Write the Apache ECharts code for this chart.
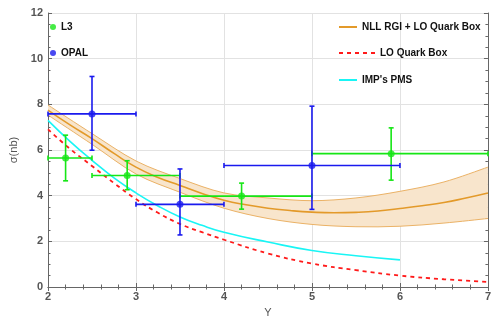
<!DOCTYPE html>
<html>
<head>
<meta charset="utf-8">
<script src="https://cdn.jsdelivr.net/npm/echarts@6/dist/echarts.min.js"></script>
<style>html,body{margin:0;padding:0;background:#fff}#c{width:494px;height:323px}</style>
</head>
<body>
<div id="c"></div>
<script>
// ---- data ----
var l3X    = [2.2, 2.9, 4.2, 5.9];
var l3Y    = [5.65, 4.88, 3.98, 5.84];
var l3XLo  = [2.0, 2.5, 3.5, 5.0];
var l3XHi  = [2.5, 3.5, 5.0, 7.0];
var l3YLo  = [4.65, 4.26, 3.41, 4.68];
var l3YHi  = [6.65, 5.53, 4.55, 6.97];

var opalX   = [2.5, 3.5, 5.0];
var opalY   = [7.58, 3.62, 5.32];
var opalXLo = [2.0, 3.0, 4.0];
var opalXHi = [3.0, 4.0, 6.0];
var opalYLo = [5.99, 2.28, 3.40];
var opalYHi = [9.22, 5.17, 7.92];

var nllX = [2, 2.25, 2.5, 2.75, 3, 3.25, 3.5, 3.75, 4, 4.25, 4.5, 4.75, 5, 5.25, 5.5, 5.75, 6, 6.25, 6.5, 6.75, 7];
var nllY = [7.75, 7.1, 6.5, 5.85, 5.25, 4.8, 4.45, 4.1, 3.8, 3.6, 3.45, 3.35, 3.28, 3.25, 3.27, 3.33, 3.44, 3.56, 3.7, 3.9, 4.12];

var bandX  = [2, 2.5, 3, 3.5, 4, 4.5, 5, 5.5, 6, 6.5, 7];
var bandHi = [7.97, 6.72, 5.52, 4.75, 4.12, 3.9, 3.78, 3.9, 4.19, 4.6, 5.25];
var bandLo = [7.53, 6.25, 4.95, 4.15, 3.45, 3.0, 2.74, 2.64, 2.66, 2.8, 3.0];

var loX = [2, 2.25, 2.5, 2.75, 3, 3.25, 3.5, 3.75, 4, 4.5, 5, 5.5, 6, 6.5, 7];
var loY = [6.9, 6.05, 5.3, 4.55, 3.85, 3.25, 2.76, 2.4, 2.07, 1.47, 1.03, 0.74, 0.5, 0.34, 0.22];

var pmsX = [2, 2.25, 2.5, 2.75, 3, 3.25, 3.5, 3.75, 4, 4.5, 5, 5.5, 6];
var pmsY = [7.3, 6.38, 5.55, 4.78, 4.12, 3.55, 3.07, 2.7, 2.4, 1.97, 1.6, 1.37, 1.19];

var xTicks = [2, 3, 4, 5, 6, 7];
var yTicks = [0, 2, 4, 6, 8, 10, 12];

// ---- helpers ----
function zip(a, b) { return a.map(function (v, i) { return [v, b[i]]; }); }
function errRows(x, y, xl, xh, yl, yh) {
  return x.map(function (v, i) { return [v, y[i], xl[i], xh[i], yl[i], yh[i]]; });
}
function errRender(color) {
  return function (params, api) {
    var c = api.coord([api.value(0), api.value(1)]);
    var xl = api.coord([api.value(2), api.value(1)])[0];
    var xh = api.coord([api.value(3), api.value(1)])[0];
    var yl = api.coord([api.value(0), api.value(4)])[1];
    var yh = api.coord([api.value(0), api.value(5)])[1];
    var st = { stroke: color, lineWidth: 1.6 };
    var h = 2.5;
    function ln(x1, y1, x2, y2) { return { type: 'line', shape: { x1: x1, y1: y1, x2: x2, y2: y2 }, style: st }; }
    return { type: 'group', children: [
      ln(xl, c[1], xh, c[1]), ln(c[0], yl, c[0], yh),
      ln(xl, c[1] - h, xl, c[1] + h), ln(xh, c[1] - h, xh, c[1] + h),
      ln(c[0] - h, yl, c[0] + h, yl), ln(c[0] - h, yh, c[0] + h, yh)
    ] };
  };
}
// Catmull-Rom style smooth path through pixel points (pts already mapped by api.coord)
function smoothSegs(p) {
  var s = '';
  for (var i = 0; i < p.length - 1; i++) {
    var p0 = p[i - 1] || p[i], p1 = p[i], p2 = p[i + 1], p3 = p[i + 2] || p[i + 1];
    var c1x = p1[0] + (p2[0] - p0[0]) / 6, c1y = p1[1] + (p2[1] - p0[1]) / 6;
    var c2x = p2[0] - (p3[0] - p1[0]) / 6, c2y = p2[1] - (p3[1] - p1[1]) / 6;
    s += ' C' + c1x + ' ' + c1y + ' ' + c2x + ' ' + c2y + ' ' + p2[0] + ' ' + p2[1];
  }
  return s;
}
function bandRender(params, api) {
  if (params.dataIndex !== 0) return null;
  var up = bandX.map(function (x, i) { return api.coord([x, bandHi[i]]); });
  var lo = bandX.map(function (x, i) { return api.coord([x, bandLo[i]]); });
  var loR = lo.slice().reverse();
  var fillD = 'M' + up[0][0] + ' ' + up[0][1] + smoothSegs(up) +
    ' L' + loR[0][0] + ' ' + loR[0][1] + smoothSegs(loR) + ' Z';
  var upD = 'M' + up[0][0] + ' ' + up[0][1] + smoothSegs(up);
  var loD = 'M' + lo[0][0] + ' ' + lo[0][1] + smoothSegs(lo);
  return { type: 'group', children: [
    { type: 'path', shape: { pathData: fillD }, style: { fill: bandFill, stroke: null } },
    { type: 'path', shape: { pathData: upD }, style: { fill: null, stroke: bandEdge, lineWidth: 1 } },
    { type: 'path', shape: { pathData: loD }, style: { fill: null, stroke: bandEdge, lineWidth: 1 } }
  ] };
}

var green = '#16e616', blue = '#1a1aee', orange = '#e39a2a', bandEdge = '#ebb266', bandFill = '#f8e5cc';
var red = '#ff1a1a', cyan = '#19f5f5';
var axisCol = '#666', labCol = '#555';

function legendAt(name, left, top, w, isLine) {
  var o = { data: [{ name: name }], left: left, top: top, padding: 0, itemWidth: w, itemHeight: 14,
    textStyle: { fontFamily: 'Liberation Sans, Arial, sans-serif', fontWeight: 'bold', fontSize: 10, color: '#111', lineHeight: 14 },
    selectedMode: false };
  if (isLine) o.itemStyle = { opacity: 0 };
  else o.icon = 'circle';
  return o;
}

var chart = echarts.init(document.getElementById('c'), null, { renderer: 'canvas' });
chart.setOption({
  animation: false,
  backgroundColor: '#fff',
  grid: { left: 39, right: 1, top: 13, bottom: 29 },
  legend: [
    legendAt('L3', 50, 20, 6, false),
    legendAt('OPAL', 50, 46, 6, false),
    legendAt('NLL RGI + LO Quark Box', 338, 20, 18, true),
    legendAt('LO Quark Box', 338, 46, 36, true),
    legendAt("IMP's PMS", 338, 73, 18, true)
  ],
  xAxis: [{
    type: 'value', min: xTicks[0], max: xTicks[xTicks.length - 1], interval: 1,
    name: 'Y', nameLocation: 'middle', nameGap: 20,
    nameTextStyle: { fontFamily: 'Liberation Sans, Arial, sans-serif', fontSize: 11, color: labCol },
    axisLine: { show: true, lineStyle: { color: axisCol, width: 1 } },
    axisTick: { show: true, inside: true, length: 4, lineStyle: { color: axisCol } },
    minorTick: { show: true, splitNumber: 5, length: 2.5, lineStyle: { color: axisCol } },
    axisLabel: { margin: 4, color: labCol, fontWeight: 'bold', fontSize: 11, fontFamily: 'Liberation Sans, Arial, sans-serif' },
    splitLine: { show: true, lineStyle: { color: '#e2e2e2', width: 1 } }
  }, {
    type: 'value', position: 'top', min: 2, max: 7, interval: 1,
    axisLine: { show: true, lineStyle: { color: axisCol, width: 1 } },
    axisTick: { show: true, inside: true, length: 4, lineStyle: { color: axisCol } },
    minorTick: { show: true, splitNumber: 5, length: 2.5, lineStyle: { color: axisCol } },
    axisLabel: { show: false }, splitLine: { show: false }
  }],
  yAxis: [{
    type: 'value', min: yTicks[0], max: yTicks[yTicks.length - 1], interval: 2,
    name: 'σ(nb)', nameLocation: 'middle', nameGap: 29, nameRotate: 90,
    nameTextStyle: { fontFamily: 'Liberation Sans, Arial, sans-serif', fontSize: 11, color: labCol },
    axisLine: { show: true, lineStyle: { color: axisCol, width: 1 } },
    axisTick: { show: true, inside: true, length: 4, lineStyle: { color: axisCol } },
    minorTick: { show: true, splitNumber: 4, length: 2.5, lineStyle: { color: axisCol } },
    axisLabel: { margin: 5, color: labCol, fontWeight: 'bold', fontSize: 11, fontFamily: 'Liberation Sans, Arial, sans-serif' },
    splitLine: { show: true, lineStyle: { color: '#e2e2e2', width: 1 } }
  }, {
    type: 'value', position: 'right', min: 0, max: 12, interval: 2,
    axisLine: { show: true, lineStyle: { color: axisCol, width: 1 } },
    axisTick: { show: true, inside: true, length: 4, lineStyle: { color: axisCol } },
    minorTick: { show: true, splitNumber: 4, length: 2.5, lineStyle: { color: axisCol } },
    axisLabel: { show: false }, splitLine: { show: false }
  }],
  series: [
    { name: 'band', type: 'custom', data: bandX.map(function (x, i) { return [x, bandLo[i], bandHi[i]]; }),
      encode: { x: 0, y: [1, 2] }, renderItem: bandRender, silent: true, clip: true, z: 1 },
    { name: 'NLL RGI + LO Quark Box', type: 'line', data: zip(nllX, nllY), smooth: true, symbol: 'none',
      color: orange, lineStyle: { color: orange, width: 1.6 }, z: 3 },
    { name: 'LO Quark Box', type: 'line', data: zip(loX, loY), smooth: true, symbol: 'none',
      color: red, lineStyle: { color: red, width: 1.8, type: [4, 4] }, z: 3 },
    { name: "IMP's PMS", type: 'line', data: zip(pmsX, pmsY), smooth: true, symbol: 'none',
      color: cyan, lineStyle: { color: cyan, width: 1.6 }, z: 3 },
    { name: 'L3 err', type: 'custom', data: errRows(l3X, l3Y, l3XLo, l3XHi, l3YLo, l3YHi),
      encode: { x: [0, 2, 3], y: [1, 4, 5] }, renderItem: errRender(green), z: 4 },
    { name: 'OPAL err', type: 'custom', data: errRows(opalX, opalY, opalXLo, opalXHi, opalYLo, opalYHi),
      encode: { x: [0, 2, 3], y: [1, 4, 5] }, renderItem: errRender(blue), z: 4 },
    { name: 'L3', type: 'scatter', data: zip(l3X, l3Y), symbol: 'circle', symbolSize: 7, color: green,
      itemStyle: { color: green }, z: 5 },
    { name: 'OPAL', type: 'scatter', data: zip(opalX, opalY), symbol: 'circle', symbolSize: 7, color: blue,
      itemStyle: { color: blue }, z: 5 }
  ]
});
</script>
</body>
</html>
